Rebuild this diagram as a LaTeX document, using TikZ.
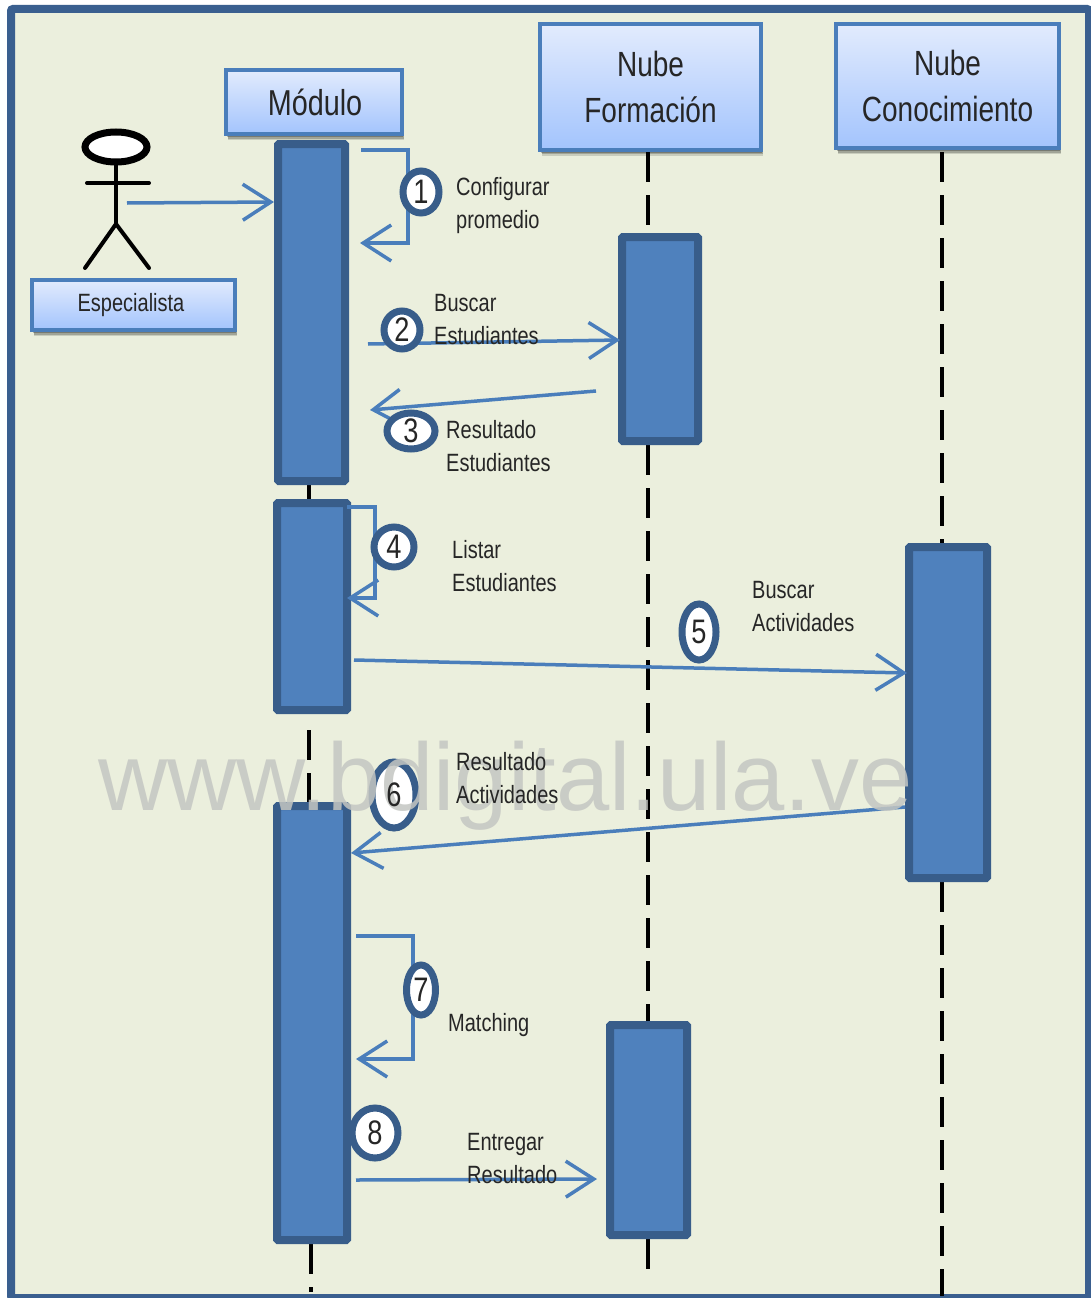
\documentclass[tikz,border=0pt]{standalone}
\usepackage{fontspec}
\setmainfont{Liberation Sans}[FakeStretch=0.80]
\newfontfamily\wmfont{Liberation Sans}
\usetikzlibrary{arrows.meta,shapes.geometric,backgrounds}
\definecolor{framec}{HTML}{3A5F8F}
\definecolor{paper}{HTML}{EBEFDD}
\definecolor{hdrline}{HTML}{4A7EBB}
\definecolor{hdrtop}{HTML}{E2EBFD}
\definecolor{hdrbot}{HTML}{A3C4FD}
\definecolor{actfill}{HTML}{4F81BD}
\definecolor{actline}{HTML}{385D8A}
\definecolor{msgc}{HTML}{4A7EBB}
\definecolor{wmc}{HTML}{C4C6C2}
\tikzset{
  softshadow/.style={preaction={draw=none,fill=black,fill opacity=#1,transform canvas={xshift=2pt,yshift=-6pt}}},
  hdrbox/.style={softshadow=.14,preaction={draw=none,fill=black,fill opacity=.2,transform canvas={xshift=1.5pt,yshift=-4.5pt}},preaction={draw=none,fill=black,fill opacity=.25,transform canvas={xshift=1pt,yshift=-3pt}},
    draw=hdrline,line width=4pt,top color=hdrtop,bottom color=hdrbot,
    inner sep=0pt,align=center,text=black!85},
  actbox/.style={draw=actline,fill=actfill,line width=8pt,inner sep=0pt,rounded corners=1pt},
  life/.style={black,line width=3.5pt,dash pattern=on 30pt off 13pt},
  msg/.style={msgc,line width=3.5pt,-{Straight Barb[length=28pt,width=36pt,line width=3.5pt]}},
  num/.style={ellipse,draw=actline,fill=white,line width=7pt,inner sep=0pt,font=\fontsize{34}{34}\selectfont,text=black!85},
  lbl/.style={inner sep=0pt,anchor=north west,align=left,text=black!85,font=\fontsize{25}{33}\selectfont},
  stick/.style={black,line width=4pt,line cap=round},
}
\begin{document}
\begin{tikzpicture}[x=1pt,y=-1pt]
\useasboundingbox (0,0) rectangle (1090,1298);

% headers
\node[hdrbox,minimum width=176pt,minimum height=64pt,font=\fontsize{36}{36}\selectfont] (mod) at (314,102) {\hspace*{2pt}\raisebox{-2pt}{Módulo}};
\node[hdrbox,minimum width=221pt,minimum height=125pt,font=\fontsize{35}{46}\selectfont] (form) at (650.5,87) {Nube\\Formación};
\node[hdrbox,minimum width=223pt,minimum height=124pt,font=\fontsize{35}{46}\selectfont] (con) at (947.5,86) {Nube\\Conocimiento};
\node[hdrbox,minimum width=203pt,minimum height=50pt] (esp) at (133.5,305) {\fontsize{25}{25}\selectfont\hspace*{-5pt}\raisebox{-2pt}{Especialista}};

% activations
\node[actbox,minimum width=67pt,minimum height=337pt] (a1) at (311.5,312.5) {};
\node[actbox,minimum width=70pt,minimum height=207pt] (a2) at (312,606.5) {};
\node[actbox,minimum width=70pt,minimum height=434pt] (a3) at (312,1023) {};
\node[actbox,minimum width=76pt,minimum height=204pt] (a4) at (660,339) {};
\node[actbox,minimum width=78pt,minimum height=331pt] (a5) at (948,712.5) {};
\node[actbox,minimum width=77pt,minimum height=210pt] (a6) at (648.5,1130) {};

% lifelines
\coordinate (m1) at (309,730);
\coordinate (m2) at (311,1292);
\coordinate (f1) at (648,152);
\coordinate (f2) at (648,1280);
\coordinate (c1) at (942,152);
\coordinate (c2) at (942,1296);
\begin{scope}[on background layer]
\fill[white] (0,0) rectangle (1090,1298);
\draw[framec,fill=paper,line width=8pt,rounded corners=2pt] (11,9) rectangle (1089,1298);
\draw[life] ([xshift=-2.5pt]a1.south) -- ([xshift=-3pt]a2.north);
\draw[life] (m1) -- ([xshift=-3pt]a3.north);
\draw[life] ([xshift=-1pt]a3.south) -- (m2);
\draw[life] (f1) -- (f1 |- a4.north);
\draw[life] (f1 |- a4.south) -- (f1 |- a6.north);
\draw[life] (f1 |- a6.south) -- (f2);
\draw[life] (c1) -- (c1 |- a5.north);
\draw[life] (c1 |- a5.south) -- (c2);
\end{scope}

% actor
\node[ellipse,draw=black,fill=white,line width=7pt,inner sep=0pt,minimum width=62pt,minimum height=30pt] (head) at (116,147) {};
\coordinate (hip) at (116,224);
\coordinate (armL) at (87,183);
\coordinate (armR) at (149,183);
\coordinate (legL) at (85,268);
\coordinate (legR) at (149,268);
\draw[stick] (head.south) -- (hip);
\draw[stick] (armL) -- (armR);
\draw[stick] (legL) -- (hip) -- (legR);

% messages
\coordinate (s0) at (127,203); \coordinate (e0) at (274,202);
\draw[msg] (s0) -- (e0);
\coordinate (s1) at (361,150); \coordinate (k1a) at (408,150); \coordinate (k1b) at (408,243); \coordinate (e1) at (360,243);
\draw[msg] (s1) -- (k1a) -- (k1b) -- (e1);
\coordinate (s2) at (368,344); \coordinate (e2) at (620,340);
\draw[msg] (s2) -- (e2);
\coordinate (s3) at (596,391); \coordinate (e3) at (370,410);
\draw[msg] (s3) -- (e3);
\coordinate (s4) at (347,507); \coordinate (k4a) at (375,507); \coordinate (k4b) at (375,598); \coordinate (e4) at (347,598);
\draw[msg] (s4) -- (k4a) -- (k4b) -- (e4);
\coordinate (s5) at (354,660); \coordinate (e5) at (907,673);
\draw[msg] (s5) -- (e5);
\coordinate (s6) at (905,807); \coordinate (e6) at (351,853);
\draw[msg] (s6) -- (e6);
\coordinate (s7) at (356,936); \coordinate (k7a) at (413,936); \coordinate (k7b) at (413,1059); \coordinate (e7) at (356,1059);
\draw[msg] (s7) -- (k7a) -- (k7b) -- (e7);
\coordinate (s8) at (356,1180); \coordinate (e8) at (597,1179);
\draw[msg] (s8) -- (e8);

% numbers
\node[num,minimum width=36pt,minimum height=42pt] (n1) at (421,192) {1};
\node[num,minimum width=36pt,minimum height=38pt] (n2) at (402,330) {2};
\node[num,minimum width=48pt,minimum height=36pt] (n3) at (411,431) {3};
\node[num,minimum width=40pt,minimum height=40pt] (n4) at (394,547) {4};
\node[num,minimum width=34pt,minimum height=56pt] (n5) at (699,632) {5};
\node[num,minimum width=44pt,minimum height=66pt] (n6) at (394,795) {};
\node[num,minimum width=29pt,minimum height=50pt] (n7) at (421,990) {7};
\node[num,minimum width=46pt,minimum height=50pt] (n8) at (375,1133) {8};

% watermark, above the shapes and below the words
\node[inner sep=0pt,anchor=base west,text=wmc,opacity=.85,font=\wmfont\fontsize{95.8}{96}\selectfont] (wm) at (98,810) {www.bdigital.ula.ve};

\node[inner sep=0pt,font=\fontsize{34}{34}\selectfont,text=black!85] (d6) at (n6.center) {6};

% labels
\node[lbl] (t1) at (456,177) {Configurar\\promedio};
\node[lbl] (t2) at (434,294) {Buscar\\Estudiantes};
\node[lbl] (t3) at (446,420) {Resultado\\Estudiantes};
\node[lbl] (t4) at (452,540) {Listar\\Estudiantes};
\node[lbl] (t5) at (752,581) {Buscar\\Actividades};
\node[lbl] (t6) at (456,752) {Resultado\\Actividades};
\node[lbl] (t7) at (448,1013) {Matching};
\node[lbl] (t8) at (467,1133) {Entregar\\Resultado};
\end{tikzpicture}
\end{document}
